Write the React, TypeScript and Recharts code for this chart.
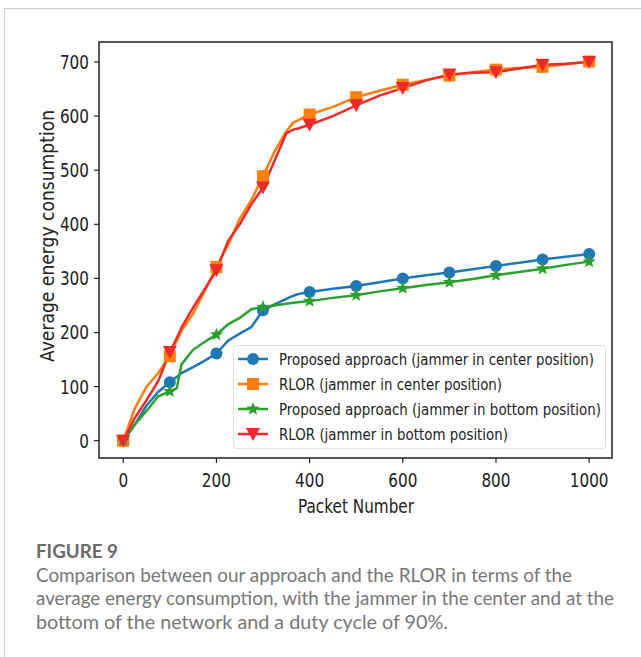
import { LineChart, Line, XAxis, YAxis, Legend, ReferenceArea, Label } from "recharts";

const packets = [0, 25, 50, 75, 100, 115, 125, 150, 175, 200, 225, 250, 275, 300, 325, 350, 365, 375, 400, 450, 500, 550, 600, 650, 700, 750, 800, 850, 900, 950, 1000];
const proposedCenter = [0, 30, 65, 90, 108, 118, 125, 136, 148, 161, 185, 198, 210, 241, 252, 262, 268, 271, 275, 281, 286, 293, 300, 306, 311, 317, 323, 329, 335, 340, 345];
const rlorCenter = [0, 60, 100, 125, 156, 185, 203, 235, 277, 321, 362, 410, 445, 489, 535, 572, 588, 592, 603, 617, 635, 647, 658, 667, 675, 681, 686, 689, 691, 696, 701];
const proposedBottom = [0, 30, 55, 82, 91, 97, 141, 168, 183, 196, 215, 227, 243, 247, 250, 253, 255, 256, 258, 264, 269, 276, 282, 288, 293, 299, 306, 312, 318, 325, 331];
const rlorBottom = [0, 42, 75, 110, 164, 190, 209, 246, 280, 315, 369, 400, 437, 468, 518, 568, 575, 577, 584, 600, 620, 638, 652, 666, 677, 680, 681, 688, 695, 697, 700];

const xTicks = [0, 200, 400, 600, 800, 1000];
const yTicks = [0, 100, 200, 300, 400, 500, 600, 700];

const seriesNames = [
  "Proposed approach (jammer in center position)",
  "RLOR (jammer in center position)",
  "Proposed approach (jammer in bottom position)",
  "RLOR (jammer in bottom position)",
];
const legendWidths = [315, 223, 322, 229];

const captionTitle = "FIGURE 9";
const captionLines = [
  "Comparison between our approach and the RLOR in terms of the",
  "average energy consumption, with the jammer in the center and at the",
  "bottom of the network and a duty cycle of 90%.",
];
const captionWidths = [536, 578, 412];

const data = packets.map((p, i) => ({
  packet: p,
  pc: proposedCenter[i],
  rc: rlorCenter[i],
  pb: proposedBottom[i],
  rb: rlorBottom[i],
}));

const BLUE = "#1f77b4";
const ORANGE = "#ff7f0e";
const GREEN = "#2ca02c";
const RED = "#ee2a2a";
const INK = "#222";
const FONT = "DejaVu Sans";
const SQUEEZE = 0.835; // the reference's text is horizontally condensed

type Shape = "circle" | "square" | "star" | "tri";

function Marker({ cx, cy, shape, color }: { cx: number; cy: number; shape: Shape; color: string }) {
  if (shape === "circle") return <circle cx={cx} cy={cy} r={6} fill={color} />;
  if (shape === "square") return <rect x={cx - 6} y={cy - 6} width={12} height={12} fill={color} />;
  if (shape === "tri")
    return <polygon points={`${cx - 7},${cy - 6} ${cx + 7},${cy - 6} ${cx},${cy + 7}`} fill={color} />;
  const pts: string[] = [];
  for (let k = 0; k < 10; k++) {
    const r = k % 2 === 0 ? 7 : 3;
    const a = -Math.PI / 2 + (k * Math.PI) / 5;
    pts.push(`${cx + r * Math.cos(a)},${cy + r * Math.sin(a)}`);
  }
  return <polygon points={pts.join(" ")} fill={color} />;
}

const dotFor = (shape: Shape, color: string) => (props: any) => {
  const { cx, cy, payload, index } = props;
  if (payload.packet % 100 !== 0) return <g key={`${shape}-${index}`} />;
  return (
    <g key={`${shape}-${index}`}>
      <Marker cx={cx} cy={cy} shape={shape} color={color} />
    </g>
  );
};

function XTick({ x, y, payload }: any) {
  const s = String(payload.value);
  return (
    <text x={x} y={y + 22} textAnchor="middle" fontSize={19} fontFamily={FONT} fill={INK}
      textLength={s.length * 9.7} lengthAdjust="spacingAndGlyphs">
      {s}
    </text>
  );
}

function YTick({ x, y, payload }: any) {
  const s = String(payload.value);
  return (
    <text x={x - 3} y={y + 7} textAnchor="end" fontSize={19} fontFamily={FONT} fill={INK}
      textLength={s.length * 9.7} lengthAdjust="spacingAndGlyphs">
      {s}
    </text>
  );
}

const legendItems: { shape: Shape; color: string }[] = [
  { shape: "circle", color: BLUE },
  { shape: "square", color: ORANGE },
  { shape: "star", color: GREEN },
  { shape: "tri", color: RED },
];

function LegendBox() {
  return (
    <svg width={374} height={105} style={{ display: "block" }}>
      <rect x={0.5} y={0.5} width={372} height={103} rx={3} fill="#fff" fillOpacity={0.85} stroke="#ddd" />
      {legendItems.map((it, i) => {
        const y = 14 + i * 25;
        return (
          <g key={i}>
            <line x1={5} x2={35} y1={y} y2={y} stroke={it.color} strokeWidth={2.5} />
            <Marker cx={20} cy={y} shape={it.shape} color={it.color} />
            <g transform={`translate(46,${y + 6}) scale(${SQUEEZE},1)`}>
              <text x={0} y={0} fontSize={16} fontFamily={FONT} fill={INK}
                textLength={legendWidths[i] / SQUEEZE} lengthAdjust="spacingAndGlyphs">
                {seriesNames[i]}
              </text>
            </g>
          </g>
        );
      })}
    </svg>
  );
}

export default function App() {
  return (
    <div style={{ position: "absolute", left: 0, top: 0, width: 641, height: 657, overflow: "hidden", background: "#fff" }}>
      <div style={{ position: "absolute", left: 4, top: 8, width: 700, height: 700, border: "1px solid #ccc" }} />
      <div style={{ position: "absolute", left: 0, top: 0 }}>
        <LineChart width={641} height={520} data={data} margin={{ top: 42, right: 29, left: 39, bottom: 22 }}>
          <XAxis dataKey="packet" type="number" domain={[-52, 1049]} ticks={xTicks} allowDataOverflow
            axisLine={false} tickLine={{ stroke: INK, strokeWidth: 1.2 }} tickSize={5} tick={<XTick />} height={40}>
            <Label content={() => (
              <text x={356} y={513} textAnchor="middle" fontSize={19} fontFamily={FONT} fill={INK}
                textLength={116} lengthAdjust="spacingAndGlyphs">Packet Number</text>
            )} />
          </XAxis>
          <YAxis type="number" domain={[-32, 737]} ticks={yTicks} allowDataOverflow
            axisLine={false} tickLine={{ stroke: INK, strokeWidth: 1.2 }} tickSize={5} tick={<YTick />} width={60}>
            <Label content={() => (
              <text x={0} y={0} transform="translate(54,236) rotate(-90)" textAnchor="middle" fontSize={19}
                fontFamily={FONT} fill={INK} textLength={252} lengthAdjust="spacingAndGlyphs">
                Average energy consumption
              </text>
            )} />
          </YAxis>
          <ReferenceArea x1={-52} x2={1049} y1={-32} y2={737} fill="none" stroke={INK} strokeWidth={1.5} ifOverflow="visible" />
          <Line dataKey="pc" stroke={BLUE} strokeWidth={2.5} dot={dotFor("circle", BLUE)} activeDot={false} isAnimationActive={false} />
          <Line dataKey="rc" stroke={ORANGE} strokeWidth={2.5} dot={dotFor("square", ORANGE)} activeDot={false} isAnimationActive={false} />
          <Line dataKey="pb" stroke={GREEN} strokeWidth={2.5} dot={dotFor("star", GREEN)} activeDot={false} isAnimationActive={false} />
          <Line dataKey="rb" stroke={RED} strokeWidth={2.5} dot={dotFor("tri", RED)} activeDot={false} isAnimationActive={false} />
          <Legend layout="horizontal" verticalAlign="middle" align="center" content={() => <LegendBox />}
            wrapperStyle={{ position: "absolute", left: 233, top: 345, width: 374, height: 105 }} />
        </LineChart>
      </div>
      <svg style={{ position: "absolute", left: 0, top: 530 }} width={641} height={120}>
        <text x={36} y={27.7} fontSize={18.5} fontFamily="Lato" fontWeight={700} fill="#6a6a6a"
          textLength={82} lengthAdjust="spacingAndGlyphs">{captionTitle}</text>
        {captionLines.map((l, i) => (
          <text key={i} x={36} y={51.7 + i * 23.7} fontSize={18.5} fontFamily="Lato" fontWeight={400} fill="#777"
            textLength={captionWidths[i]} lengthAdjust="spacingAndGlyphs">{l}</text>
        ))}
      </svg>
    </div>
  );
}
